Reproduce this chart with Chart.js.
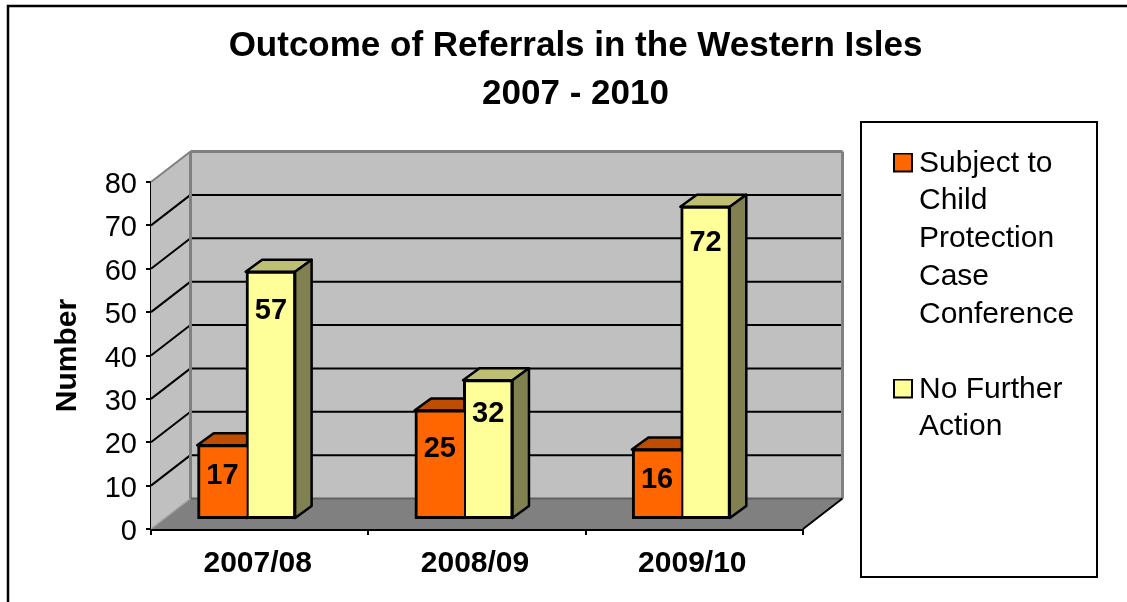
<!DOCTYPE html>
<html>
<head>
<meta charset="utf-8">
<title>Outcome of Referrals in the Western Isles</title>
<script src="https://cdn.jsdelivr.net/npm/chart.js@4"></script>
<style>
    html, body { margin: 0; padding: 0; background: #fff; overflow: hidden; }
    canvas { display: block; }
</style>
</head>
<body>
<canvas id="referralsChart" width="1127" height="602"></canvas>
<script>
const titleLines = ['Outcome of Referrals in the Western Isles', '2007 - 2010'];
const yearLabels = ['2007/08', '2008/09', '2009/10'];
const conferenceValues = [17, 25, 16];
const noActionValues = [57, 32, 72];
const conferenceLegend = ['Subject to', 'Child', 'Protection', 'Case', 'Conference'];
const noActionLegend = ['No Further', 'Action'];
const yTicks = [0, 10, 20, 30, 40, 50, 60, 70, 80];

// how far the back wall sits from the front plane
const wallDx = 39.5, wallDy = -30.5;
// where the bars stand on the floor, relative to the front plane
const barDx = -13, barDy = -10;
// size of the bar top / side faces
const depthDx = 16.5, depthDy = -12;
// value labels sit a bit below the bar top, they were not centred in the original
const labelDrop = [[31, 38, 30], [39, 34, 36]];

const faceColors = [
    { top: '#BF4D00', side: '#BF4D00' },
    { top: '#BFBF73', side: '#808050' }
];

function poly(ctx, pts, fill, stroke, width) {
    ctx.beginPath();
    pts.forEach((p, i) => i ? ctx.lineTo(p[0], p[1]) : ctx.moveTo(p[0], p[1]));
    ctx.closePath();
    if (fill) { ctx.fillStyle = fill; ctx.fill(); }
    if (stroke) { ctx.strokeStyle = stroke; ctx.lineWidth = width; ctx.lineJoin = 'round'; ctx.stroke(); }
}

function line(ctx, x1, y1, x2, y2, color, width) {
    ctx.beginPath();
    ctx.moveTo(x1, y1);
    ctx.lineTo(x2, y2);
    ctx.strokeStyle = color;
    ctx.lineWidth = width;
    ctx.stroke();
}

function legendKey(color) {
    const key = document.createElement('canvas');
    key.width = 20;
    key.height = 22;
    const c = key.getContext('2d');
    c.fillStyle = '#000';
    c.fillRect(0, 0, 20, 20);
    c.fillStyle = color;
    c.fillRect(2, 2, 16, 16);
    return key;
}

const frame3d = {
    id: 'frame3d',
    beforeInit(chart) {
        // legend box is much wider than its text
        const fit = chart.legend.fit;
        chart.legend.fit = function () {
            fit.call(this);
            this.width = 316;
        };
    },
    afterLayout(chart) {
        const lg = chart.legend;
        lg.left = 902 - 37.5;
        lg.right = 1097;
        lg.top = 111;
        lg.bottom = 577;
    },
    beforeDraw(chart) {
        const ctx = chart.ctx;
        ctx.save();
        ctx.strokeStyle = '#000';
        ctx.lineWidth = 2.5;
        // outer frame runs off the right and bottom of the picture
        ctx.strokeRect(8, 6, 1300, 700);
        ctx.lineWidth = 2;
        ctx.strokeRect(861, 122, 236, 455);
        ctx.restore();
    },
    beforeDatasetsDraw(chart) {
        const ctx = chart.ctx;
        const a = chart.chartArea;
        const y = chart.scales.y;
        const y0 = y.getPixelForValue(0), yMax = y.getPixelForValue(80);
        ctx.save();
        // left wall, back wall, floor
        poly(ctx, [[a.left, y0], [a.left + wallDx, y0 + wallDy], [a.left + wallDx, yMax + wallDy], [a.left, yMax]], '#C0C0C0');
        poly(ctx, [[a.left + wallDx, y0 + wallDy], [a.right + wallDx, y0 + wallDy], [a.right + wallDx, yMax + wallDy], [a.left + wallDx, yMax + wallDy]], '#C0C0C0');
        poly(ctx, [[a.left, y0], [a.right, y0], [a.right + wallDx, y0 + wallDy], [a.left + wallDx, y0 + wallDy]], '#808080');
        // grid lines around the walls
        yTicks.slice(1, -1).forEach(v => {
            const py = y.getPixelForValue(v);
            line(ctx, a.left, py, a.left + wallDx, py + wallDy, '#000', 2);
            line(ctx, a.left + wallDx, py + wallDy, a.right + wallDx - 1, py + wallDy, '#000', 2);
        });
        // wall edges
        line(ctx, a.left, yMax, a.left + wallDx, yMax + wallDy, '#808080', 2);
        line(ctx, a.left + wallDx, yMax + wallDy, a.right + wallDx, yMax + wallDy, '#808080', 3);
        line(ctx, a.left + wallDx, yMax + wallDy, a.left + wallDx, y0 + wallDy, '#808080', 3);
        line(ctx, a.right + wallDx, yMax + wallDy, a.right + wallDx, y0 + wallDy, '#808080', 3);
        line(ctx, a.left + wallDx, y0 + wallDy, a.right + wallDx, y0 + wallDy, '#606060', 2);
        line(ctx, a.left, y0, a.left + wallDx, y0 + wallDy, '#A0A0A0', 1.5);
        line(ctx, a.right, y0, a.right + wallDx, y0 + wallDy, '#000', 2);

        // top and side faces first, fronts come from the chart itself
        ctx.translate(barDx, barDy);
        chart.data.datasets.forEach((ds, i) => {
            const colors = faceColors[i];
            chart.getDatasetMeta(i).data.forEach(bar => {
                const l = bar.x - bar.width / 2 - 1, r = bar.x + bar.width / 2;
                poly(ctx, [[l, bar.y], [l + depthDx, bar.y + depthDy], [r + depthDx, bar.y + depthDy], [r, bar.y]], colors.top, '#000', 2.5);
                poly(ctx, [[r, bar.y], [r + depthDx, bar.y + depthDy], [r + depthDx, bar.base + depthDy], [r, bar.base]], colors.side, '#000', 2.5);
            });
        });
        ctx.restore();
    },
    beforeDatasetDraw(chart) {
        chart.ctx.save();
        chart.ctx.translate(barDx, barDy);
    },
    afterDatasetDraw(chart) {
        chart.ctx.restore();
    },
    afterDatasetsDraw(chart) {
        const ctx = chart.ctx;
        ctx.save();
        ctx.translate(barDx, barDy);
        ctx.fillStyle = '#000';
        ctx.font = 'bold 29px "Liberation Sans", Arial, sans-serif';
        ctx.textAlign = 'center';
        ctx.textBaseline = 'middle';
        chart.data.datasets.forEach((ds, i) => {
            chart.getDatasetMeta(i).data.forEach((bar, j) => {
                ctx.fillText(ds.data[j], bar.x, bar.y + labelDrop[i][j]);
            });
        });
        ctx.restore();
    }
};

Chart.defaults.font.family = '"Liberation Sans", Arial, sans-serif';
Chart.defaults.color = '#000';

const ctx = document.getElementById('referralsChart').getContext('2d');
const referralsChart = new Chart(ctx, {
    type: 'bar',
    data: {
        labels: yearLabels,
        datasets: [{
            label: conferenceLegend.join(' '),
            data: conferenceValues,
            backgroundColor: '#FF6600',
            borderColor: '#000',
            borderWidth: { top: 3, left: 3, bottom: 3, right: 0 },
            borderSkipped: false,
            inflateAmount: 1
        }, {
            label: noActionLegend.join(' '),
            data: noActionValues,
            backgroundColor: '#FFFF99',
            borderColor: '#000',
            borderWidth: 3,
            borderSkipped: false,
            inflateAmount: 1
        }]
    },
    options: {
        responsive: false,
        animation: false,
        events: [],
        categoryPercentage: 0.446,
        barPercentage: 1,
        layout: {
            autoPadding: false,
            padding: { left: 32, right: 8, top: 6, bottom: 0 }
        },
        scales: {
            x: {
                afterFit(scale) { scale.height = 73; },
                border: { color: '#000', width: 3 },
                grid: { drawOnChartArea: false, color: '#000', lineWidth: 2, tickLength: 6 },
                ticks: { padding: 11, labelOffset: -2, maxRotation: 0, font: { size: 30, weight: 'bold' }, color: '#000' }
            },
            y: {
                min: 0,
                max: 80,
                afterFit(scale) { scale.width = 119; },
                border: { color: '#000', width: 2 },
                grid: { drawOnChartArea: false, color: '#000', lineWidth: 2, tickLength: 5 },
                ticks: { stepSize: 10, padding: 9, labelOffset: 3, font: { size: 29 }, color: '#000' },
                title: {
                    display: true,
                    text: 'Number',
                    color: '#000',
                    font: { size: 30, weight: 'bold' },
                    padding: { top: 18, bottom: 0 }
                }
            }
        },
        plugins: {
            title: {
                display: true,
                text: titleLines,
                color: '#000',
                font: { size: 35, weight: 'bold', lineHeight: 48 / 35 },
                padding: { top: 16, bottom: 64 }
            },
            legend: {
                position: 'right',
                align: 'start',
                labels: {
                    usePointStyle: true,
                    boxWidth: 2,
                    padding: 37.5,
                    color: '#000',
                    font: { size: 30, lineHeight: 37.7 / 30 },
                    generateLabels(chart) {
                        return [conferenceLegend, noActionLegend].map((lines, i) => ({
                            text: lines,
                            datasetIndex: i,
                            pointStyle: legendKey(chart.data.datasets[i].backgroundColor),
                            fontColor: '#000',
                            hidden: false
                        }));
                    }
                }
            },
            tooltip: { enabled: false }
        }
    },
    plugins: [frame3d]
});
</script>
</body>
</html>
